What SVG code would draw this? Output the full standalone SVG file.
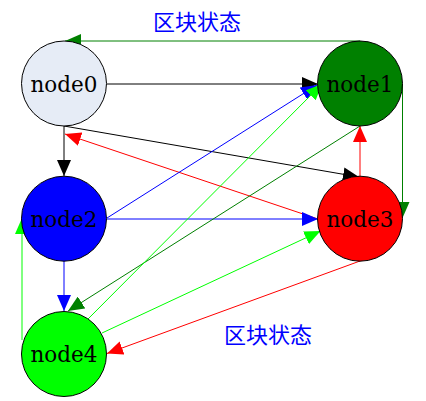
<svg xmlns="http://www.w3.org/2000/svg" width="426" height="401" viewBox="0 0 426 401">
<style>
circle{stroke:#000;stroke-width:1}
.t{font-size:21.5px;text-anchor:middle;fill:#000}
.lbl{font-size:22px;fill:#0000ff}
.e{fill:none;stroke-width:1}
</style>
<defs>
<marker id="ak" viewBox="0 0 16 14" refX="16" refY="7" markerWidth="16" markerHeight="14" markerUnits="userSpaceOnUse" orient="auto"><path d="M0,0 L16,7 L0,14 z" fill="#000"/></marker>
<marker id="ab" viewBox="0 0 16 14" refX="16" refY="7" markerWidth="16" markerHeight="14" markerUnits="userSpaceOnUse" orient="auto"><path d="M0,0 L16,7 L0,14 z" fill="#0000ff"/></marker>
<marker id="ar" viewBox="0 0 16 14" refX="16" refY="7" markerWidth="16" markerHeight="14" markerUnits="userSpaceOnUse" orient="auto"><path d="M0,0 L16,7 L0,14 z" fill="#ff0000"/></marker>
<marker id="ag" viewBox="0 0 16 14" refX="16" refY="7" markerWidth="16" markerHeight="14" markerUnits="userSpaceOnUse" orient="auto"><path d="M0,0 L16,7 L0,14 z" fill="#008000"/></marker>
<marker id="al" viewBox="0 0 16 14" refX="16" refY="7" markerWidth="16" markerHeight="14" markerUnits="userSpaceOnUse" orient="auto"><path d="M0,0 L16,7 L0,14 z" fill="#00ff00"/></marker>
</defs>
<rect width="426" height="401" fill="#fff"/>
<g id="edges">
<polyline class="e" stroke="#008000" points="360,41 65,41" marker-end="url(#ag)"/>
<polyline class="e" stroke="#008000" points="402.5,84 402.5,218" marker-end="url(#ag)"/>
<line class="e" stroke="#000" x1="107" y1="84" x2="318" y2="84" marker-end="url(#ak)"/>
<line class="e" stroke="#000" x1="64" y1="126" x2="64" y2="176" marker-end="url(#ak)"/>
<line class="e" stroke="#000" x1="64" y1="126" x2="359" y2="177" marker-end="url(#ak)"/>
<line class="e" stroke="#ff0000" x1="318" y1="219" x2="65" y2="134" marker-end="url(#ar)"/>
<line class="e" stroke="#0000ff" x1="107" y1="218" x2="317" y2="85" marker-end="url(#ab)"/>
<line class="e" stroke="#0000ff" x1="107" y1="219" x2="318" y2="219" marker-end="url(#ab)"/>
<line class="e" stroke="#0000ff" x1="64" y1="261" x2="64" y2="311" marker-end="url(#ab)"/>
<line class="e" stroke="#ff0000" x1="360" y1="177" x2="360" y2="126" marker-end="url(#ar)"/>
<line class="e" stroke="#008000" x1="360" y1="126" x2="68" y2="311" marker-end="url(#ag)"/>
<line class="e" stroke="#00ff00" x1="88" y1="319" x2="322" y2="84" marker-end="url(#al)"/>
<line class="e" stroke="#00ff00" x1="22" y1="340" x2="22" y2="218" marker-end="url(#al)"/>
<line class="e" stroke="#00ff00" x1="102" y1="333" x2="320.5" y2="231" marker-end="url(#al)"/>
<line class="e" stroke="#ff0000" x1="360" y1="261" x2="107" y2="353.5" marker-end="url(#ar)"/>
</g>
<g id="node0" font-family="DejaVu Serif"><circle cx="64" cy="83.5" r="42.5" fill="#e6ecf6"/><text class="t" x="64" y="91.5">node0</text></g>
<g id="node1" font-family="DejaVu Serif"><circle cx="360" cy="83.5" r="42.5" fill="#008000"/><text class="t" x="360" y="91.5">node1</text></g>
<g id="node2" font-family="DejaVu Serif"><circle cx="64" cy="218.7" r="42.5" fill="#0000ff"/><text class="t" x="64" y="226.5">node2</text></g>
<g id="node3" font-family="DejaVu Serif"><circle cx="360" cy="218.7" r="42.5" fill="#ff0000"/><text class="t" x="360" y="226.5">node3</text></g>
<g id="node4" font-family="DejaVu Serif"><circle cx="64" cy="354" r="42.5" fill="#00ff00"/><text class="t" x="64" y="362">node4</text></g>
<text class="lbl" font-family="Noto Sans CJK SC, sans-serif" x="153" y="30">区块状态</text>
<text class="lbl" font-family="Noto Sans CJK SC, sans-serif" x="224" y="343">区块状态</text>
</svg>
